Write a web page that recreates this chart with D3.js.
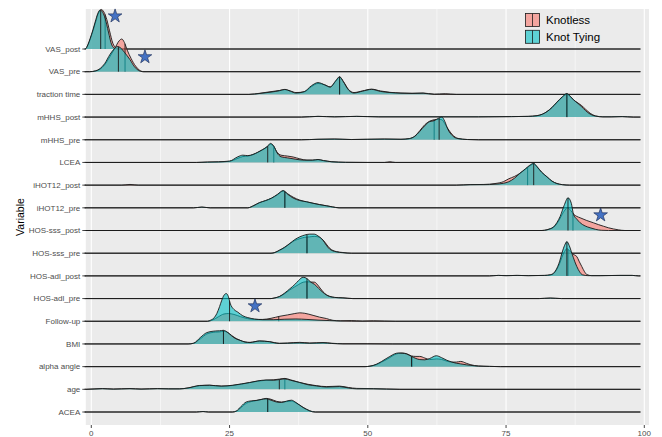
<!DOCTYPE html>
<html>
<head>
<meta charset="utf-8">
<title>Ridgeline: Knotless vs Knot Tying</title>
<script src="https://d3js.org/d3.v7.min.js"></script>
<style>
  body { margin: 0; background: #fff; }
  svg { font-family: "Liberation Sans", Arial, sans-serif; }
</style>
</head>
<body>
<svg width="662" height="437"></svg>
<script>
// rows, top to bottom as shown
var variables = ["VAS_post", "VAS_pre", "traction time", "mHHS_post", "mHHS_pre", "LCEA",
  "iHOT12_post", "iHOT12_pre", "HOS-sss_post", "HOS-sss_pre", "HOS-adl_post", "HOS-adl_pre",
  "Follow-up", "BMI", "alpha angle", "age", "ACEA"];
var groups = ["Knotless", "Knot Tying"];
var xTicks = [0, 25, 50, 75, 100];

// density curves: [x, ridge height in row units]
var knotlessCurves = [
  [[-1.1,0],[-0.6,0.18],[-0.2,0.43],[0.3,0.8],[0.7,1.12],[1.2,1.52],[1.8,1.74],[2.3,1.62],[2.8,1.3],[3.3,0.8],[3.9,0.25],[4.5,0.04],[5,0]],
  [[-0.3,0],[0.8,0.03],[1.6,0.11],[2.4,0.3],[3.4,0.68],[4.3,1.05],[5,1.35],[5.5,1.44],[6,1.28],[6.5,0.95],[7.2,0.58],[8,0.25],[8.7,0.07],[9.5,0]],
  [[28.5,0],[30.5,0.05],[32.5,0.12],[34,0.17],[35,0.21],[36,0.15],[37,0.08],[38.5,0.11],[39.8,0.34],[41,0.48],[42.2,0.42],[43.2,0.33],[44.2,0.58],[44.9,0.76],[45.6,0.56],[46.5,0.22],[47.5,0.08],[49,0.15],[50.7,0.23],[52.3,0.15],[54,0.09],[56,0.06],[58,0.05],[60,0.06],[62,0.01],[64,0.03],[66,0]],
  [[38,0],[41,0.03],[44,0.01],[48,0.03],[52,0.01],[56,0.01],[70,0.01],[76,0.02],[79,0.03],[80.6,0.06],[81.6,0.13],[82.4,0.24],[83.3,0.42],[84.2,0.64],[85.2,0.88],[86,1.0],[86.6,0.9],[87.2,0.76],[88,0.62],[88.6,0.52],[89.4,0.34],[90.2,0.17],[91.2,0.05],[92.5,0.01],[94,0.01],[96,0.02],[98,0]],
  [[38,0],[41,0.02],[44,0.03],[47,0.01],[50,0.02],[53,0.03],[56,0.02],[57.5,0.05],[58.5,0.16],[59.4,0.4],[60.3,0.66],[61.2,0.82],[62,0.88],[62.8,0.9],[63.4,0.88],[63.9,0.72],[64.5,0.48],[65.3,0.22],[66.3,0.06],[68,0.01],[70,0]],
  [[19,0],[21,0.01],[23,0.02],[25,0.05],[26.5,0.18],[27.4,0.26],[28.3,0.28],[29.2,0.34],[30.1,0.44],[31,0.56],[31.8,0.68],[32.4,0.8],[33,0.7],[33.6,0.45],[34.3,0.32],[35.5,0.28],[36.5,0.24],[37.7,0.16],[39,0.1],[40,0.1],[41,0.12],[42,0.08],[43.5,0.03],[46,0],[53,0],[54,0.03],[55,0]],
  [[5.5,0],[7,0.03],[8.5,0],[66,0],[68.5,0.02],[71,0.03],[73,0.07],[74.5,0.15],[75.5,0.28],[76.5,0.38],[77.5,0.52],[78.5,0.7],[79.3,0.85],[80,0.93],[80.6,0.8],[81.4,0.57],[82.4,0.36],[83.3,0.17],[84.2,0.07],[85.2,0.02],[86.5,0]],
  [[18.5,0],[20,0.03],[21.5,0],[28.3,0],[29.4,0.1],[30.4,0.22],[31.5,0.31],[32.6,0.42],[33.7,0.58],[34.7,0.74],[35.5,0.62],[36.5,0.47],[37.7,0.34],[38.9,0.26],[40.1,0.2],[41.3,0.14],[42.5,0.09],[43.6,0.04],[44.8,0]],
  [[81.5,0],[82.4,0.03],[83,0.07],[83.6,0.14],[84.2,0.3],[84.8,0.55],[85.5,0.85],[86.1,1.0],[86.7,0.88],[87.2,0.72],[87.8,0.62],[88.4,0.56],[89.6,0.44],[90.8,0.34],[91.7,0.26],[92.6,0.19],[93.5,0.12],[94.4,0.07],[95.3,0.03],[96.5,0]],
  [[32.5,0],[33.2,0.03],[34,0.12],[35,0.25],[35.9,0.42],[36.8,0.56],[37.7,0.64],[38.6,0.7],[39.5,0.72],[40.3,0.74],[41,0.72],[41.9,0.58],[42.5,0.4],[43.1,0.22],[44.3,0.07],[45.5,0.03],[47,0]],
  [[72,0],[73.6,0.02],[75,0.01],[77,0.02],[79,0.01],[82,0.02],[83,0.04],[83.6,0.1],[84.2,0.3],[84.7,0.55],[85.1,0.82],[85.6,1.08],[86,1.2],[86.5,1.1],[87,0.98],[87.4,0.92],[87.8,0.85],[88.2,0.65],[88.7,0.41],[89.2,0.18],[89.6,0.06],[90.5,0.01],[92,0.01],[95.6,0.02],[97.8,0.02],[99,0]],
  [[32.5,0],[33.2,0.03],[34,0.08],[35,0.22],[35.9,0.38],[36.8,0.52],[37.5,0.62],[38.3,0.72],[39,0.74],[39.7,0.73],[40.4,0.72],[41.1,0.55],[41.9,0.3],[42.5,0.17],[43.1,0.1],[44,0.05],[45.5,0.03],[47.3,0],[81,0],[83,0.02],[85,0]],
  [[21,0],[22,0.06],[23,0.2],[24,0.32],[24.8,0.34],[25.8,0.3],[27,0.2],[28.2,0.12],[29.5,0.08],[31,0.08],[32.5,0.13],[34.1,0.22],[35.5,0.28],[36.8,0.34],[37.7,0.37],[38.6,0.35],[40.1,0.26],[41.3,0.18],[42.5,0.12],[43.7,0.04],[45,0.02],[47,0.03],[49,0.01],[51,0.02],[55,0]],
  [[17.5,0],[18.5,0.03],[19.7,0.22],[20.9,0.44],[22.4,0.52],[23.2,0.53],[23.9,0.56],[24.7,0.5],[25.4,0.37],[26.2,0.24],[26.9,0.16],[27.8,0.09],[28.7,0.07],[29.6,0.1],[30.4,0.13],[31.3,0.12],[32.2,0.1],[33.1,0.06],[34,0.03],[35.5,0.04],[37.7,0.07],[39.5,0.04],[41.9,0.06],[43.5,0.03],[45.5,0.01],[50,0.01],[54.5,0]],
  [[49.5,0],[50.4,0.02],[51.5,0.08],[52.5,0.2],[53.3,0.3],[54,0.4],[54.8,0.52],[55.5,0.58],[56.2,0.6],[57,0.57],[57.9,0.47],[58.7,0.45],[59.4,0.45],[60.3,0.38],[61.2,0.31],[62.4,0.34],[63.3,0.32],[64.3,0.24],[65.2,0.2],[66,0.2],[66.8,0.23],[67.8,0.15],[68.5,0.09],[70,0.03],[72,0.01],[74,0]],
  [[-1,0],[2,0.03],[4,0.01],[7,0.03],[9,0.01],[12,0.03],[14,0.02],[16,0.02],[17.5,0.06],[19.6,0.16],[21.4,0.18],[23.5,0.14],[25.6,0.17],[27.2,0.23],[28.6,0.29],[30.1,0.36],[31.6,0.4],[33,0.42],[34,0.45],[35,0.48],[36,0.42],[37.7,0.3],[39.2,0.22],[40.7,0.16],[42.5,0.12],[44.9,0.14],[46.5,0.08],[48,0.04],[51,0.03],[55.8,0]],
  [[19,0],[20.2,0.02],[21.2,0],[25.5,0],[26.2,0.03],[27.1,0.2],[28,0.38],[28.9,0.46],[29.8,0.5],[30.7,0.55],[31.6,0.6],[32.5,0.56],[33.5,0.47],[34.4,0.44],[35.3,0.46],[36.2,0.48],[37,0.4],[37.7,0.3],[38.3,0.2],[38.9,0.12],[39.5,0.05],[40.5,0]]
];

var knotTyingCurves = [
  [[-1.1,0],[-0.6,0.2],[-0.2,0.47],[0.3,0.85],[0.7,1.19],[1.2,1.58],[1.6,1.72],[2.1,1.6],[2.5,1.35],[3.1,0.75],[3.7,0.18],[4.3,0.02],[4.8,0]],
  [[-0.3,0],[0.8,0.04],[1.6,0.14],[2.4,0.35],[3.4,0.77],[4.2,1.02],[4.7,1.11],[5.3,1.05],[6,0.85],[7,0.53],[7.8,0.22],[8.5,0.06],[9.3,0]],
  [[28.5,0],[30.5,0.04],[32.5,0.1],[34,0.16],[35,0.22],[36,0.14],[37,0.06],[38.5,0.12],[39.8,0.38],[41,0.52],[42.2,0.42],[43.2,0.32],[44.2,0.6],[44.9,0.78],[45.6,0.55],[46.5,0.2],[47.5,0.06],[49,0.14],[50.7,0.22],[52.3,0.13],[54,0.08],[56,0.05],[58,0.04],[60,0.05],[62,0]],
  [[38,0],[41,0.03],[44,0.01],[48,0.03],[52,0.01],[56,0.01],[70,0.01],[76,0.02],[79,0.03],[80.6,0.06],[81.6,0.13],[82.4,0.24],[83.3,0.42],[84.2,0.66],[85.2,0.9],[86,1.04],[86.6,0.92],[87.2,0.76],[88,0.6],[88.6,0.47],[89.4,0.28],[90.2,0.13],[91.2,0.04],[92.5,0.01],[94,0.01],[96,0.02],[98,0]],
  [[38,0],[41,0.02],[44,0.03],[47,0.01],[50,0.02],[53,0.03],[56,0.02],[57.5,0.05],[58.5,0.15],[59.4,0.37],[60.3,0.62],[61.2,0.8],[62,0.84],[62.8,0.95],[63.4,1.0],[63.9,0.82],[64.5,0.45],[65.3,0.18],[66.3,0.05],[68,0.01],[70,0]],
  [[19,0],[21,0.02],[23,0.03],[25,0.06],[26.5,0.25],[27.4,0.32],[28.3,0.3],[29.2,0.35],[30.1,0.45],[31,0.57],[31.8,0.7],[32.4,0.84],[33,0.72],[33.6,0.42],[34.3,0.25],[35.5,0.2],[37,0.14],[38.5,0.1],[40,0.1],[41,0.13],[42,0.08],[43.5,0.03],[46,0.01],[50,0]],
  [[66,0],[68.5,0.02],[71,0.02],[73,0.04],[74.5,0.08],[75.5,0.15],[76.5,0.3],[77.5,0.52],[78.5,0.72],[79.3,0.88],[80,0.96],[80.6,0.82],[81.4,0.58],[82.4,0.37],[83.3,0.18],[84.2,0.07],[85.2,0.02],[86.5,0]],
  [[18.5,0],[20,0.03],[21.5,0],[28.3,0],[29.4,0.1],[30.4,0.23],[31.5,0.32],[32.6,0.43],[33.7,0.6],[34.7,0.76],[35.5,0.6],[36.5,0.43],[37.7,0.32],[38.9,0.27],[40.1,0.2],[41.3,0.14],[42.5,0.09],[43.6,0.04],[44.8,0]],
  [[81.5,0],[82.4,0.03],[83,0.08],[83.6,0.16],[84.2,0.35],[84.8,0.63],[85.5,1.1],[86.2,1.44],[86.8,1.2],[87.2,0.71],[87.8,0.5],[88.4,0.34],[89.3,0.2],[90.2,0.12],[91.2,0.05],[92.2,0.01],[93.5,0]],
  [[32.5,0],[33.2,0.03],[34,0.13],[35,0.27],[35.9,0.43],[36.8,0.6],[37.7,0.72],[38.6,0.8],[39.5,0.84],[40.3,0.84],[41,0.76],[41.9,0.57],[42.5,0.35],[43.1,0.18],[44.3,0.06],[45.5,0.02],[47,0]],
  [[72,0],[73.6,0.02],[75,0.01],[77,0.02],[79,0.01],[82,0.02],[83,0.05],[83.6,0.12],[84.2,0.34],[84.7,0.65],[85.1,1.0],[85.6,1.35],[86,1.51],[86.4,1.35],[86.9,1.0],[87.4,0.65],[87.8,0.41],[88.3,0.18],[88.8,0.05],[89.8,0.01],[92,0.01],[95.6,0.02],[97.8,0.02],[99,0]],
  [[32.5,0],[33.2,0.03],[34,0.09],[35,0.25],[35.9,0.43],[36.8,0.62],[37.5,0.8],[38.3,0.94],[39,0.88],[39.7,0.72],[40.4,0.62],[41.1,0.45],[41.9,0.27],[42.5,0.16],[43.1,0.09],[44,0.05],[45.5,0.03],[47.3,0],[81,0],[83,0.02],[85,0]],
  [[21,0],[21.6,0.05],[22.2,0.15],[22.7,0.34],[23.2,0.65],[23.6,0.93],[24,1.15],[24.4,1.22],[24.8,1.08],[25.1,0.8],[25.8,0.52],[26.5,0.4],[27.4,0.24],[28.3,0.16],[29.5,0.1],[31,0.07],[33,0.07],[35,0.09],[37,0.1],[39,0.08],[41,0.05],[43,0.03],[45,0.01],[47,0]],
  [[17.5,0],[18.5,0.03],[19.7,0.28],[20.9,0.5],[22.4,0.57],[23.2,0.58],[23.9,0.6],[24.7,0.5],[25.4,0.35],[26.2,0.22],[26.9,0.16],[27.8,0.08],[28.7,0.06],[29.6,0.1],[30.4,0.13],[31.3,0.12],[32.2,0.1],[33.1,0.05],[34,0.02],[35.5,0.03],[37.7,0.05],[39.5,0.03],[41.9,0.05],[43.5,0.02],[45.5,0]],
  [[49.5,0],[50.4,0.02],[51.5,0.1],[52.5,0.23],[53.3,0.35],[54,0.45],[54.8,0.56],[55.5,0.6],[56.2,0.59],[57,0.56],[57.9,0.45],[58.7,0.36],[59.4,0.31],[60.3,0.3],[61.2,0.36],[62.4,0.48],[63.3,0.4],[64.3,0.28],[65.2,0.2],[66,0.15],[66.8,0.12],[67.8,0.08],[68.5,0.06],[70,0.02],[72,0.01],[74,0]],
  [[-1,0],[2,0.03],[4,0.01],[7,0.03],[9,0.01],[12,0.03],[14,0.02],[16,0.02],[17.5,0.06],[19.6,0.17],[21.4,0.18],[23.5,0.14],[25.6,0.18],[27.2,0.24],[28.6,0.3],[30.1,0.37],[31.6,0.41],[33,0.4],[34,0.43],[35,0.46],[36,0.4],[37.7,0.3],[39.2,0.2],[40.7,0.15],[42.5,0.1],[44.9,0.12],[46.5,0.06],[48,0.02],[51,0.02],[55.8,0]],
  [[19,0],[20.2,0.02],[21.2,0],[25.5,0],[26.2,0.04],[27.1,0.25],[28,0.44],[28.9,0.49],[29.8,0.51],[30.7,0.55],[31.6,0.58],[32.5,0.52],[33.5,0.44],[34.4,0.42],[35.3,0.48],[36.2,0.52],[37,0.42],[37.7,0.3],[38.3,0.2],[38.9,0.12],[39.5,0.05],[40.5,0]]
];

// group medians per row
var knotlessMedian  = [2.5, 6.1, 44.9, 86, 62, 33, 78.9, 35, 87.1, 39, 86.2, 39, 33.9, 23.9, 58, 35, 31.9];
var knotTyingMedian = [1.7, 4.9, 44.9, 86, 62.9, 31.9, 80, 35, 86.2, 39, 86, 39, 25, 23.9, 57.9, 34, 31.9];

// significance stars: x value and row position (row units, 0 = top row)
var starX   = [4.3, 9.7, 92.1, 29.6];
var starRow = [-1.45, 0.35, 7.32, 11.33];

var dataRange = [-1.2, 99.3];

var svg = d3.select("svg"),
    panelLeft = 85.8, panelRight = 649, panelTop = 9, panelBottom = 425;

var x = d3.scaleLinear().domain([0, 100]).range([91.3, 644.3]);
var y = d3.scaleLinear().domain([0, variables.length - 1]).range([49, 412]);
var colour = d3.scaleOrdinal().domain(groups).range(["#F8766D", "#00BFC4"]);

svg.append("rect").attr("width", 662).attr("height", 437).attr("fill", "#fff");

svg.append("rect")
    .attr("x", panelLeft).attr("y", panelTop)
    .attr("width", panelRight - panelLeft).attr("height", panelBottom - panelTop)
    .attr("fill", "#EBEBEB");

var grid = svg.append("g");
grid.selectAll(".minor")
  .data([12.5, 37.5, 62.5, 87.5])
  .enter().append("line")
    .attr("x1", x).attr("x2", x)
    .attr("y1", panelTop).attr("y2", panelBottom)
    .attr("stroke", "#fff").attr("stroke-width", 0.55);
grid.selectAll(".major")
  .data(xTicks)
  .enter().append("line")
    .attr("x1", x).attr("x2", x)
    .attr("y1", panelTop).attr("y2", panelBottom)
    .attr("stroke", "#fff").attr("stroke-width", 1.1);

var area = d3.area()
    .x(function(d) { return x(d[0]); })
    .y0(function(d) { return d.base; })
    .y1(function(d) { return d.top; })
    .curve(d3.curveMonotoneX);
var line = d3.line()
    .x(function(d) { return x(d[0]); })
    .y(function(d) { return d.top; })
    .curve(d3.curveMonotoneX);

var ridges = svg.append("g");

function heightAt(node, px) {
  // the ridge line runs left to right, so search along its length
  var lo = 0, hi = node.getTotalLength();
  for (var k = 0; k < 40; k++) {
    var mid = (lo + hi) / 2;
    if (node.getPointAtLength(mid).x < px) lo = mid; else hi = mid;
  }
  return node.getPointAtLength(lo).y;
}

variables.forEach(function(v, i) {
  var base = y(i);
  [[knotlessCurves[i], knotlessMedian[i], groups[0]],
   [knotTyingCurves[i], knotTyingMedian[i], groups[1]]].forEach(function(s) {
    var pts = s[0].slice();
    if (pts[0][0] > dataRange[0]) pts.unshift([dataRange[0], 0]);
    if (pts[pts.length - 1][0] < dataRange[1]) pts.push([dataRange[1], 0]);
    pts = pts.map(function(p) {
      var q = [p[0], p[1]];
      q.base = base;
      q.top = y(i - p[1]);
      return q;
    });
    var g = ridges.append("g");
    g.append("path")
        .attr("d", area(pts))
        .attr("fill", colour(s[2]))
        .attr("fill-opacity", 0.6);
    var ln = g.append("path")
        .attr("d", line(pts))
        .attr("fill", "none")
        .attr("stroke", "#1a1a1a")
        .attr("stroke-width", 0.9);
    var mx = x(s[1]);
    g.append("line")
        .attr("x1", mx).attr("x2", mx)
        .attr("y1", base).attr("y2", heightAt(ln.node(), mx))
        .attr("stroke", "#1a1a1a")
        .attr("stroke-width", 0.9);
  });
});

// stars
svg.append("g").selectAll("path")
  .data(starX)
  .enter().append("path")
    .attr("transform", function(d, i) { return "translate(" + x(d) + "," + y(starRow[i]) + ")"; })
    .attr("d", d3.symbol().type(d3.symbolStar).size(58))
    .attr("fill", "#4472C4")
    .attr("stroke", "#22345e")
    .attr("stroke-width", 0.7);

// y axis
var yAxis = svg.append("g");
variables.forEach(function(v, i) {
  yAxis.append("line")
      .attr("x1", panelLeft - 3.5).attr("x2", panelLeft)
      .attr("y1", y(i)).attr("y2", y(i))
      .attr("stroke", "#333").attr("stroke-width", 0.9);
  yAxis.append("text")
      .attr("x", panelLeft - 5.5).attr("y", y(i))
      .attr("dy", "0.35em")
      .attr("text-anchor", "end")
      .attr("font-size", 8)
      .attr("fill", "#4D4D4D")
      .text(v);
});

// x axis
var xAxis = svg.append("g");
xTicks.forEach(function(t) {
  xAxis.append("line")
      .attr("x1", x(t)).attr("x2", x(t))
      .attr("y1", panelBottom).attr("y2", panelBottom + 3)
      .attr("stroke", "#333").attr("stroke-width", 0.9);
  xAxis.append("text")
      .attr("x", x(t)).attr("y", panelBottom + 11)
      .attr("text-anchor", "middle")
      .attr("font-size", 8)
      .attr("fill", "#4D4D4D")
      .text(t);
});

svg.append("text")
    .attr("transform", "translate(20," + (panelTop + panelBottom) / 2 + ")rotate(-90)")
    .attr("text-anchor", "middle")
    .attr("dy", "0.35em")
    .attr("font-size", 10.5)
    .attr("fill", "#000")
    .text("Variable");

// legend
var legend = svg.append("g").attr("transform", "translate(525,13)");
groups.forEach(function(gName, i) {
  var row = legend.append("g").attr("transform", "translate(0," + i * 16.8 + ")");
  row.append("rect")
      .attr("width", 15).attr("height", 14)
      .attr("fill", "#EBEBEB");
  row.append("rect")
      .attr("x", 0.5).attr("y", 0.5)
      .attr("width", 14).attr("height", 13)
      .attr("fill", colour(gName)).attr("fill-opacity", 0.6)
      .attr("stroke", "#1a1a1a").attr("stroke-width", 0.8);
  row.append("line")
      .attr("x1", 7.5).attr("x2", 7.5).attr("y1", 0.5).attr("y2", 13.5)
      .attr("stroke", "#1a1a1a").attr("stroke-width", 0.8);
  row.append("text")
      .attr("x", 21).attr("y", 7)
      .attr("dy", "0.35em")
      .attr("font-size", 11.5)
      .attr("fill", "#000")
      .text(gName);
});
</script>
</body>
</html>
